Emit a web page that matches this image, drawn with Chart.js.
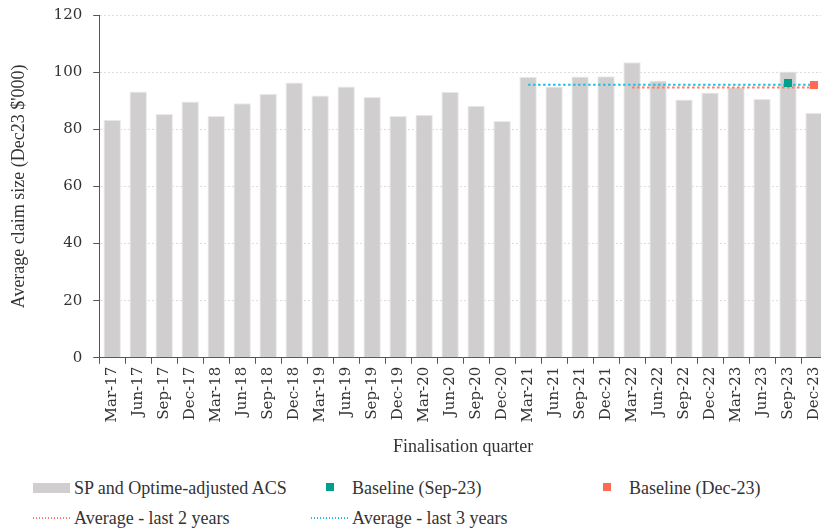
<!DOCTYPE html>
<html>
<head>
<meta charset="utf-8">
<script src="https://cdn.jsdelivr.net/npm/chart.js@4/dist/chart.umd.min.js"></script>
<style>
  html, body { margin: 0; padding: 0; background: #fff; overflow: hidden; width: 821px; height: 529px; }
  #wrap { position: relative; width: 840px; height: 470px; }
  #legend { position: absolute; left: 0; top: 476px; width: 821px; height: 53px;
            font-family: "Liberation Serif", serif; font-size: 18px; color: #333; }
  .item { position: absolute; display: flex; align-items: center; height: 24px; white-space: nowrap; }
  .mark { width: 37px; height: 24px; position: relative; margin-right: 4px; }
  .mark span { position: absolute; }
</style>
</head>
<body>
<div id="wrap"><canvas id="chart" width="840" height="470"></canvas></div>
<div id="legend"></div>
<script>
// Finalisation quarters
const quarters = ['Mar-17','Jun-17','Sep-17','Dec-17','Mar-18','Jun-18','Sep-18','Dec-18',
  'Mar-19','Jun-19','Sep-19','Dec-19','Mar-20','Jun-20','Sep-20','Dec-20',
  'Mar-21','Jun-21','Sep-21','Dec-21','Mar-22','Jun-22','Sep-22','Dec-22',
  'Mar-23','Jun-23','Sep-23','Dec-23'];

// Average claim size, SP and Optime-adjusted ($'000, Dec23 values)
const acsValues = [83.3, 93.2, 85.3, 89.7, 84.6, 89.1, 92.4, 96.4,
  91.8, 95.0, 91.3, 84.6, 85.1, 93.1, 88.2, 82.9,
  98.4, 95.0, 98.5, 98.6, 103.5, 97.1, 90.4, 92.9,
  94.7, 90.6, 100.2, 85.8];

// Reference averages and the quarter each one starts from
const avgLast2Years = 94.6;
const avgLast2From = 'Mar-22';
const avgLast3Years = 95.6;
const avgLast3From = 'Mar-21';

// Baseline selections
const baselineSep23 = 96.2;
const baselineSep23At = 'Sep-23';
const baselineDec23 = 95.5;
const baselineDec23At = 'Dec-23';

// Y axis ticks
const yTicks = [0, 20, 40, 60, 80, 100, 120];

const COL_BAR = '#d0cece';
const COL_TEAL = '#00a08b';
const COL_CORAL = '#ff6b50';
const COL_AVG2 = '#ff7a66';
const COL_AVG3 = '#1cbfe6';
const TXT = '#333333';
const AXIS = '#555555';

const fromQuarter = (start, v) => { const s = quarters.indexOf(start); return quarters.map((q, i) => i >= s ? v : null); };
const atQuarter = (at, v) => quarters.map(q => q === at ? v : null);

const tickFont = { family: '"DejaVu Serif", serif', size: 15 };
const titleFont = { family: '"Liberation Serif", serif', size: 18 };

const chart = new Chart(document.getElementById('chart'), {
  type: 'bar',
  data: {
    labels: quarters,
    datasets: [
      { type: 'bar', label: 'SP and Optime-adjusted ACS', data: acsValues, order: 5,
        backgroundColor: COL_BAR, borderColor: '#ebeaea', borderWidth: 1,
        barPercentage: 0.67, categoryPercentage: 1.0 },
      { type: 'line', label: 'Baseline (Sep-23)', data: atQuarter(baselineSep23At, baselineSep23), order: 1,
        showLine: false, pointStyle: 'rect', pointRadius: 5.7, pointBorderWidth: 0,
        backgroundColor: COL_TEAL, borderColor: COL_TEAL },
      { type: 'line', label: 'Baseline (Dec-23)', data: atQuarter(baselineDec23At, baselineDec23), order: 0,
        showLine: false, pointStyle: 'rect', pointRadius: 5.7, pointBorderWidth: 0,
        backgroundColor: COL_CORAL, borderColor: COL_CORAL },
      { type: 'line', label: 'Average - last 2 years', data: fromQuarter(avgLast2From, avgLast2Years), order: 3,
        borderColor: COL_AVG2, borderWidth: 2, borderDash: [2.5, 2.5], pointRadius: 0, fill: false },
      { type: 'line', label: 'Average - last 3 years', data: fromQuarter(avgLast3From, avgLast3Years), order: 2,
        borderColor: COL_AVG3, borderWidth: 2, borderDash: [2.5, 2.5], pointRadius: 0, fill: false }
    ]
  },
  options: {
    responsive: false,
    animation: false,
    events: [],
    layout: { padding: { left: 8, top: 15, right: 13, bottom: 12 } },
    plugins: { legend: { display: false }, tooltip: { enabled: false } },
    scales: {
      x: {
        offset: true,
        grid: { display: true, drawOnChartArea: false, drawTicks: true, tickLength: 6,
                tickColor: AXIS, offset: true, tickBorderDash: [] },
        border: { display: true, color: AXIS, width: 1 },
        ticks: { font: tickFont, color: TXT, minRotation: 90, maxRotation: 90, padding: 3, autoSkip: false },
        title: { display: true, text: 'Finalisation quarter', font: titleFont, color: TXT,
                 padding: { top: 11, bottom: 0 } }
      },
      y: {
        min: 0, max: 120,
        afterBuildTicks: s => { s.ticks = yTicks.map(v => ({ value: v })); },
        // top label fits inside the layout padding
        afterFit: s => { s.paddingTop = 0; },
        grid: { color: '#dcdcdc', lineWidth: 1, drawTicks: true, tickLength: 6,
                tickColor: AXIS, tickBorderDash: [] },
        border: { display: true, color: AXIS, width: 1, dash: [2, 2] },
        ticks: { font: tickFont, color: TXT, padding: 11 },
        title: { display: true, text: "Average claim size (Dec23 $'000)", font: titleFont, color: TXT,
                 padding: { top: 0, bottom: 13 } }
      }
    }
  }
});

// Legend laid out in three columns beneath the plot
const legendSpec = [
  { ds: 0, kind: 'box',  left: 33,  top: 0 },
  { ds: 1, kind: 'sq',   left: 311, top: 0 },
  { ds: 2, kind: 'sq',   left: 588, top: 0 },
  { ds: 3, kind: 'dots', left: 33,  top: 30 },
  { ds: 4, kind: 'dots', left: 311, top: 30 }
];
const legendEl = document.getElementById('legend');
legendSpec.forEach(spec => {
  const ds = chart.data.datasets[spec.ds];
  const item = document.createElement('div');
  item.className = 'item';
  item.style.left = spec.left + 'px';
  item.style.top = spec.top + 'px';
  const mark = document.createElement('div');
  mark.className = 'mark';
  const s = document.createElement('span');
  if (spec.kind === 'box') {
    Object.assign(s.style, { left: '0px', top: '7px', width: '37px', height: '10px', background: ds.backgroundColor });
  } else if (spec.kind === 'sq') {
    Object.assign(s.style, { left: '15px', top: '7px', width: '8px', height: '8px', background: ds.backgroundColor });
  } else {
    Object.assign(s.style, { left: '0px', top: '11px', width: '37px', height: '1.5px',
      background: `repeating-linear-gradient(90deg, ${ds.borderColor} 0 1.5px, transparent 1.5px 3px)` });
  }
  mark.appendChild(s);
  const label = document.createElement('span');
  label.textContent = ds.label;
  item.appendChild(mark);
  item.appendChild(label);
  legendEl.appendChild(item);
});
</script>
</body>
</html>
